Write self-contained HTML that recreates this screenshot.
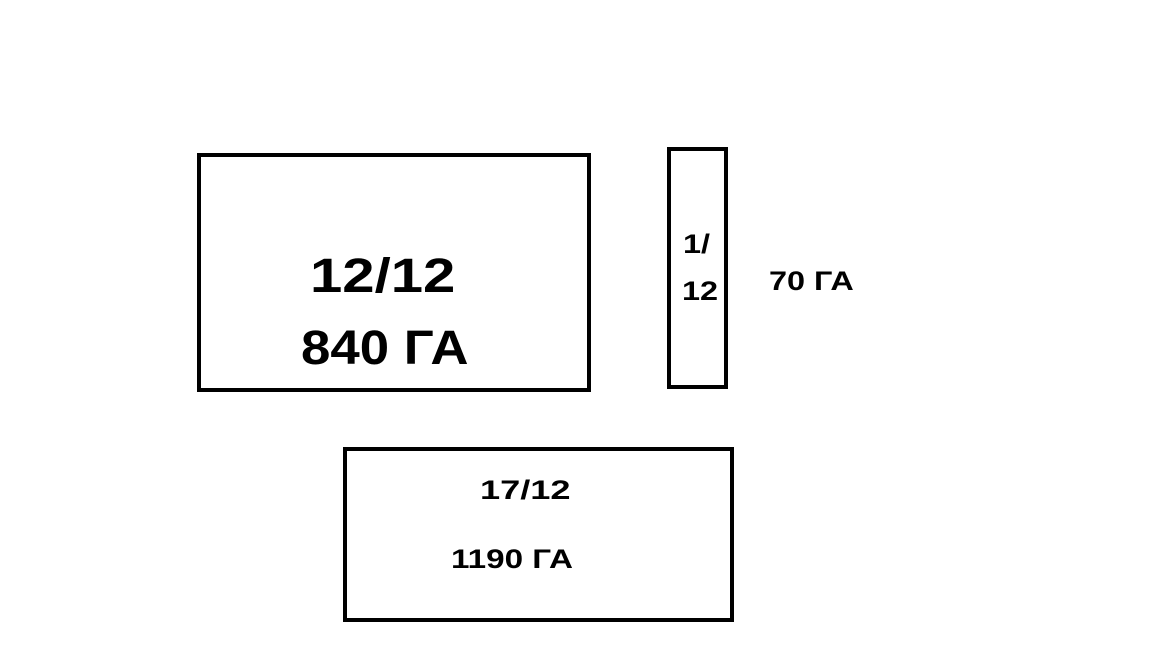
<!DOCTYPE html>
<html><head><meta charset="utf-8"><style>
body{margin:0;width:1152px;height:648px;background:#fff;position:relative;overflow:hidden;font-family:"Liberation Sans","DejaVu Sans",sans-serif;font-weight:bold;color:#000}
.b{position:absolute;border:4px solid #000;box-sizing:border-box}
.t{position:absolute;white-space:nowrap;line-height:1;transform-origin:0 0}
</style></head><body>
<div class="b" style="left:197px;top:153px;width:394px;height:239px"></div>
<div class="b" style="left:667px;top:147px;width:61px;height:242px"></div>
<div class="b" style="left:343px;top:447px;width:391px;height:175px"></div>
<div class="t" style="left:310px;top:253px;font-size:48px;transform:scaleX(1.21)">12/12</div>
<div class="t" style="left:301px;top:325px;font-size:48px;transform:scaleX(1.1)">840 ГА</div>
<div class="t" style="left:683px;top:231px;font-size:27px;transform:scaleX(1.2)">1/</div>
<div class="t" style="left:682px;top:278px;font-size:27px;transform:scaleX(1.2)">12</div>
<div class="t" style="left:769px;top:268px;font-size:27px;transform:scaleX(1.2)">70 ГА</div>
<div class="t" style="left:480px;top:477px;font-size:27px;transform:scaleX(1.34)">17/12</div>
<div class="t" style="left:451px;top:546px;font-size:27px;transform:scaleX(1.23)">1190 ГА</div>
</body></html>
